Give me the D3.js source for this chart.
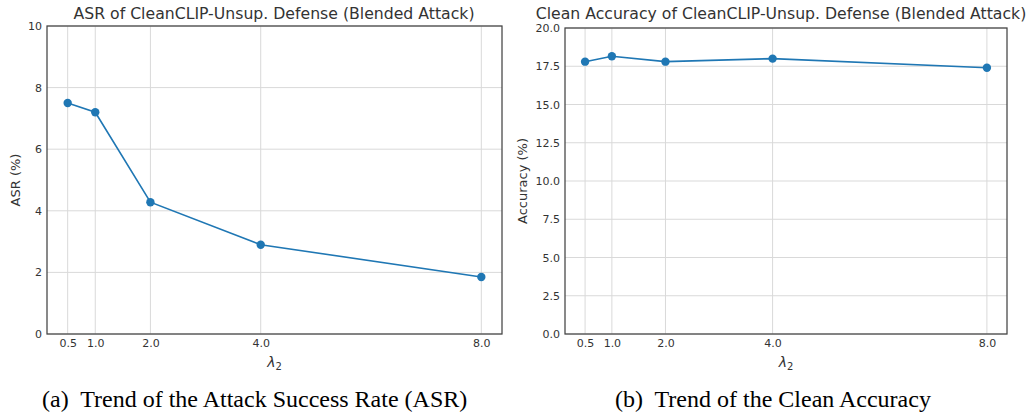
<!DOCTYPE html>
<html><head><meta charset="utf-8">
<script src="https://cdn.jsdelivr.net/npm/d3@7"></script>
<style>
body{margin:0;background:#fff;}
svg text{font-family:"DejaVu Sans",sans-serif;}
</style></head>
<body><svg id="c" width="1031" height="412"></svg>
<script>
const lambdas = [0.5, 1.0, 2.0, 4.0, 8.0];
const xTickLabels = ["0.5", "1.0", "2.0", "4.0", "8.0"];
const asrValues = [7.5, 7.2, 4.28, 2.9, 1.85];
const accValues = [17.8, 18.15, 17.8, 18.0, 17.4];
const asrTicks = [0, 2, 4, 6, 8, 10];
const accTicks = [0, 2.5, 5, 7.5, 10, 12.5, 15, 17.5, 20];

const svg = d3.select("#c");
const textCol = "#333333";
const lineCol = "#1f77b4";

function panel(cfg){
  const g = svg.append("g");
  const x = d3.scaleLinear().domain([0.125, 8.375]).range([cfg.left, cfg.right]);
  const y = d3.scaleLinear().domain(cfg.yDomain).range([cfg.bottom, cfg.top]);
  g.selectAll(".gx").data(lambdas).enter().append("line")
    .attr("x1", d=>x(d)).attr("x2", d=>x(d)).attr("y1", cfg.top).attr("y2", cfg.bottom)
    .attr("stroke", "#d9d9d9").attr("stroke-width", 1);
  g.selectAll(".gy").data(cfg.yTicks).enter().append("line")
    .attr("x1", cfg.left).attr("x2", cfg.right).attr("y1", d=>y(d)).attr("y2", d=>y(d))
    .attr("stroke", "#d9d9d9").attr("stroke-width", 1);
  const xa = g.append("g").attr("transform", `translate(0,${cfg.bottom})`)
    .call(d3.axisBottom(x).tickValues(lambdas).tickFormat((d,i)=>xTickLabels[i]).tickSize(0).tickPadding(5));
  const ya = g.append("g").attr("transform", `translate(${cfg.left},0)`)
    .call(d3.axisLeft(y).tickValues(cfg.yTicks).tickFormat(cfg.yFmt).tickSize(0).tickPadding(5));
  [xa, ya].forEach(a=>{
    a.select(".domain").remove();
    a.selectAll("text").attr("fill", textCol).style("font-size", "11px").style("font-family", "DejaVu Sans");
  });
  g.append("rect").attr("x", cfg.left).attr("y", cfg.top)
    .attr("width", cfg.right-cfg.left).attr("height", cfg.bottom-cfg.top)
    .attr("fill", "none").attr("stroke", "#444").attr("stroke-width", 1.25);
  const line = d3.line().x((d,i)=>x(lambdas[i])).y(d=>y(d));
  g.append("path").datum(cfg.values).attr("d", line)
    .attr("fill", "none").attr("stroke", lineCol).attr("stroke-width", 1.6);
  g.selectAll(".pt").data(cfg.values).enter().append("circle")
    .attr("cx", (d,i)=>x(lambdas[i])).attr("cy", d=>y(d)).attr("r", 4.2).attr("fill", lineCol);
  g.append("text").attr("x", cfg.titleX).attr("y", 19)
    .attr("text-anchor", "middle").attr("fill", textCol).style("font-size", "15.7px").text(cfg.title);
  g.append("text").attr("transform", `translate(${cfg.ylabX},${(cfg.top+cfg.bottom)/2}) rotate(-90)`)
    .attr("text-anchor", "middle").attr("fill", textCol).style("font-size", "13px").text(cfg.ylabel);
  const xl = g.append("text").attr("x", (cfg.left+cfg.right)/2).attr("y", 367)
    .attr("text-anchor", "middle").attr("fill", textCol).style("font-size", "14px")
    .style("font-family", "DejaVu Sans").style("font-style", "italic");
  xl.append("tspan").text("λ");
  xl.append("tspan").attr("dy", 3).style("font-size", "10px").style("font-style", "normal").text("2");
  svg.append("text").attr("x", cfg.capX).attr("y", 407)
    .style("font-family", "Liberation Serif, Times New Roman, serif").style("font-size", "24px")
    .attr("fill", "#000").attr("xml:space","preserve").text(cfg.caption);
}

panel({left:47, right:502, top:26, bottom:334, yDomain:[0,10], yTicks:asrTicks, yFmt:d3.format("d"),
  values:asrValues, title:"ASR of CleanCLIP-Unsup. Defense (Blended Attack)", titleX:274, ylabel:"ASR (%)", ylabX:20,
  caption:"(a)  Trend of the Attack Success Rate (ASR)", capX:42});
panel({left:565, right:1007, top:28, bottom:334, yDomain:[0,20], yTicks:accTicks, yFmt:d3.format(".1f"),
  values:accValues, title:"Clean Accuracy of CleanCLIP-Unsup. Defense (Blended Attack)", titleX:781, ylabel:"Accuracy (%)", ylabX:527,
  caption:"(b)  Trend of the Clean Accuracy", capX:615});
</script></body></html>
